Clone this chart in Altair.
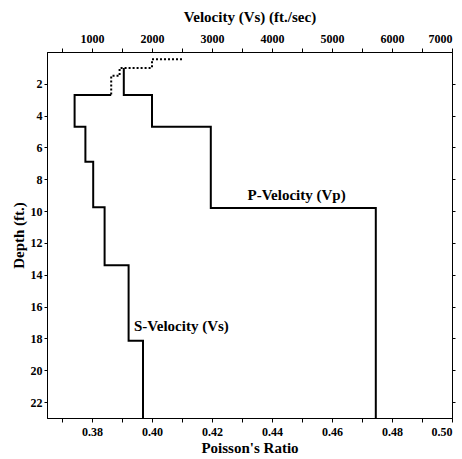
import altair as alt
import pandas as pd

# ---- values ----
# near-surface S-velocity (dotted), ft/sec and depth interfaces (ft)
s_dot_start = 2500
s_dot_vel = [2000, 1460, 1320]
s_dot_depth = [0.46, 1.0, 1.5, 2.7]

# S-velocity (solid)
s_start = 1320
s_vel = [710, 890, 1020, 1210, 1610, 1850]
s_depth = [2.7, 4.7, 6.9, 9.75, 13.4, 18.15, 23]

# P-velocity (solid)
p_vel = [1530, 2000, 2980, 5730]
p_depth = [1.0, 2.7, 4.7, 9.8, 23]

vel_ticks = list(range(500, 7001, 500))
pr_ticks = [0.37, 0.38, 0.39, 0.40, 0.41, 0.42, 0.43, 0.44, 0.45, 0.46, 0.47, 0.48, 0.49, 0.50]
depth_ticks = [2, 4, 6, 8, 10, 12, 14, 16, 18, 20, 22]

label_names = ["P-Velocity (Vp)", "S-Velocity (Vs)"]
label_v = [4410, 1700]
label_d = [9.0, 17.2]
label_align = ["center", "left"]


def steps(name, style, start, vels, depths):
    rows = []
    if start is not None:
        rows.append((start, depths[0]))
    for k, v in enumerate(vels):
        rows.append((v, depths[k]))
        rows.append((v, depths[k + 1]))
    return [dict(series=name, style=style, i=j, v=a, d=b) for j, (a, b) in enumerate(rows)]


rows = (steps("sdot", "dotted", s_dot_start, s_dot_vel, s_dot_depth)
        + steps("s", "solid", s_start, s_vel, s_depth)
        + steps("p", "solid", None, p_vel, p_depth))
lines_df = pd.DataFrame(rows)

FONT = "Liberation Serif"

x_enc = alt.X("v:Q",
              scale=alt.Scale(domain=[250, 7000], nice=False, zero=False),
              axis=alt.Axis(orient="top", title="Velocity (Vs) (ft./sec)", values=vel_ticks,
                            format="d", labelExpr="datum.value % 1000 == 0 ? datum.label : ''",
                            labelPadding=3, titlePadding=8))
y_enc = alt.Y("d:Q",
              scale=alt.Scale(domain=[0, 23], reverse=True, nice=False, zero=False),
              axis=alt.Axis(orient="left", title="Depth (ft.)", values=depth_ticks,
                            labelPadding=2, titlePadding=4, tickSize=3))

lines = alt.Chart(lines_df).mark_line(color="black", strokeWidth=2, strokeCap="butt").encode(
    x=x_enc, y=y_enc,
    detail="series:N",
    order=alt.Order("i:Q"),
    strokeDash=alt.StrokeDash("style:N", scale=alt.Scale(domain=["dotted", "solid"],
                                                         range=[[2, 2], [1, 0]]), legend=None),
)

labels_df = pd.DataFrame({"name": label_names, "v": label_v, "d": label_d, "align": label_align})
texts = []
for k in range(len(label_names)):
    texts.append(alt.Chart(labels_df.iloc[[k]]).mark_text(
        font=FONT, fontWeight="bold", fontSize=15, color="black", align=label_align[k],
        baseline="middle").encode(x=x_enc, y=y_enc, text="name:N"))

inner = alt.layer(lines, *texts)

pr_df = pd.DataFrame({"p": [0.365, 0.50], "dd": [0, 23]})
pr_layer = alt.Chart(pr_df).mark_point(opacity=0).encode(
    x=alt.X("p:Q", scale=alt.Scale(domain=[0.365, 0.50], nice=False, zero=False),
            axis=alt.Axis(orient="bottom", title="Poisson's Ratio", values=pr_ticks,
                          labelExpr="round(datum.value*100) % 2 == 0 ? format(datum.value, '.2f') : ''",
                          labelPadding=4, titlePadding=3)),
    y=alt.Y("dd:Q", scale=alt.Scale(domain=[0, 23], reverse=True, nice=False, zero=False),
            axis=alt.Axis(orient="right", title=None, labels=False, values=depth_ticks, tickSize=3)),
)

chart = alt.layer(inner, pr_layer).resolve_scale(x="independent", y="independent").properties(
    width=405, height=366,
    autosize=alt.AutoSizeParams(type="none"),
    padding={"left": 47, "top": 52, "right": 10, "bottom": 41},
    background="white",
).configure_view(stroke="black", strokeWidth=1).configure_axis(
    domainColor="black", domainWidth=1, tickColor="black", tickSize=4, grid=False,
    labelColor="black", labelFont=FONT, labelFontWeight="bold", labelFontSize=12,
    titleColor="black", titleFont=FONT, titleFontWeight="bold", titleFontSize=15,
)

chart.save("out.html", embed_options={"renderer": "svg", "actions": False})
